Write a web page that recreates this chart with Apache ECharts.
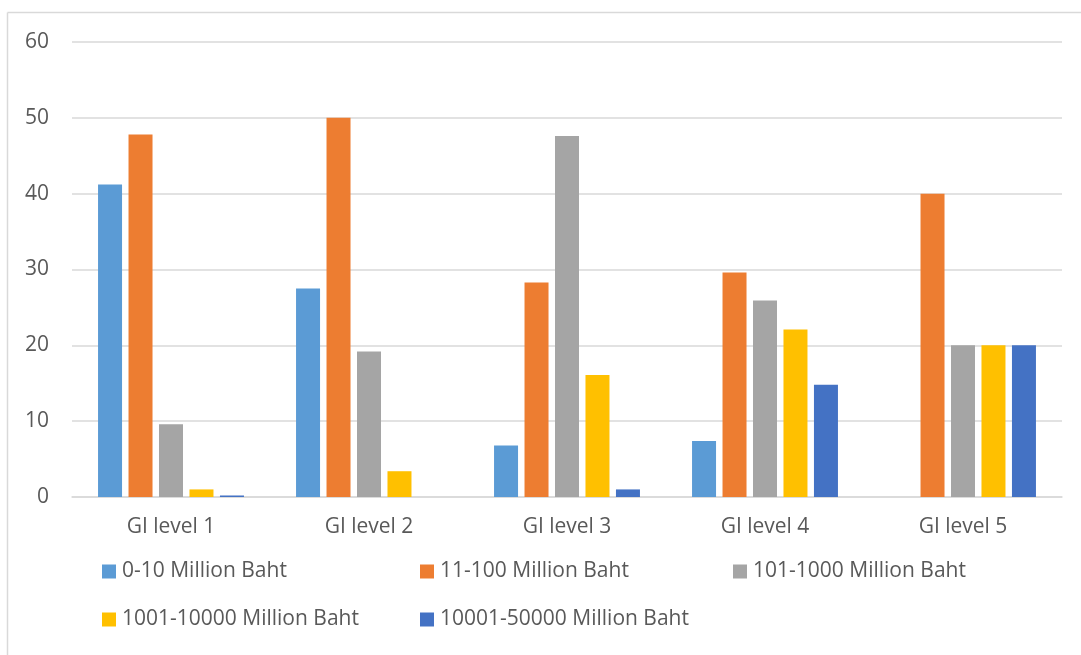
<!DOCTYPE html>
<html>
<head>
<meta charset="utf-8">
<script src="https://cdn.jsdelivr.net/npm/echarts@6/dist/echarts.min.js"></script>
<style>
  html, body { margin: 0; padding: 0; background: #ffffff; }
  #chart { width: 1081px; height: 655px; }
</style>
</head>
<body>
<div id="chart"></div>
<script>
// Categories on the x axis
const categories = ['GI level 1', 'GI level 2', 'GI level 3', 'GI level 4', 'GI level 5'];

// Series names (company size by revenue)
const seriesNames = [
  '0-10 Million Baht',
  '11-100 Million Baht',
  '101-1000 Million Baht',
  '1001-10000 Million Baht',
  '10001-50000 Million Baht'
];

// Values per series, one per GI level
const size0to10 = [41.2, 27.5, 6.8, 7.4, 0];
const size11to100 = [47.8, 50, 28.3, 29.6, 40];
const size101to1000 = [9.6, 19.2, 47.6, 25.9, 20];
const size1001to10000 = [1.0, 3.4, 16.1, 22.1, 20];
const size10001to50000 = [0.2, 0, 1.0, 14.8, 20];

// Y axis ticks
const yMin = 0;
const yMax = 60;
const yStep = 10;

const seriesValues = [size0to10, size11to100, size101to1000, size1001to10000, size10001to50000];
const colors = ['#5b9bd5', '#ed7d31', '#a5a5a5', '#ffc000', '#4472c4'];

const FONT = "'Open Sans', 'Noto Sans', sans-serif";
const FONT_SIZE = 21;
const TEXT_COLOR = '#595959';
const GRID_COLOR = '#d9d9d9';

// Legend layout: two rows, three columns
const legendSlots = [
  { left: 102, top: 561 },
  { left: 420, top: 561 },
  { left: 733, top: 561 },
  { left: 102, top: 609 },
  { left: 420, top: 609 }
];

const chart = echarts.init(document.getElementById('chart'), null, { renderer: 'canvas' });

const option = {
  backgroundColor: '#ffffff',
  animation: false,
  color: colors,
  textStyle: { fontFamily: FONT },
  graphic: [
    {
      type: 'line',
      shape: { x1: 7.5, y1: 12.5, x2: 1081, y2: 12.5 },
      style: { stroke: GRID_COLOR, lineWidth: 1.5 },
      silent: true
    },
    {
      type: 'line',
      shape: { x1: 7.5, y1: 12.5, x2: 7.5, y2: 655 },
      style: { stroke: GRID_COLOR, lineWidth: 1.5 },
      silent: true
    }
  ],
  grid: {
    left: 72,
    right: 19,
    top: 42,
    bottom: 158,
    containLabel: false
  },
  legend: seriesNames.map((name, i) => ({
    data: [name],
    left: legendSlots[i].left,
    top: legendSlots[i].top,
    padding: 0,
    icon: 'rect',
    itemWidth: 14,
    itemHeight: 14,
    selectedMode: false,
    textStyle: { fontSize: FONT_SIZE, color: TEXT_COLOR, fontFamily: FONT, padding: [0, 0, 0, 1] }
  })),
  xAxis: {
    type: 'category',
    data: categories,
    axisLine: { show: true, lineStyle: { color: GRID_COLOR, width: 1.5 } },
    axisTick: { show: false },
    axisLabel: { fontSize: FONT_SIZE, color: TEXT_COLOR, fontFamily: FONT, margin: 20 }
  },
  yAxis: {
    type: 'value',
    min: yMin,
    max: yMax,
    interval: yStep,
    axisLine: { show: false },
    axisTick: { show: false },
    axisLabel: { fontSize: FONT_SIZE, color: TEXT_COLOR, fontFamily: FONT, margin: 23 },
    splitLine: { show: true, lineStyle: { color: GRID_COLOR, width: 1.5 } }
  },
  series: seriesNames.map((name, i) => ({
    name: name,
    type: 'bar',
    data: seriesValues[i],
    barWidth: 24,
    barGap: '27%',
    itemStyle: { color: colors[i] }
  }))
};

chart.setOption(option);
</script>
</body>
</html>
